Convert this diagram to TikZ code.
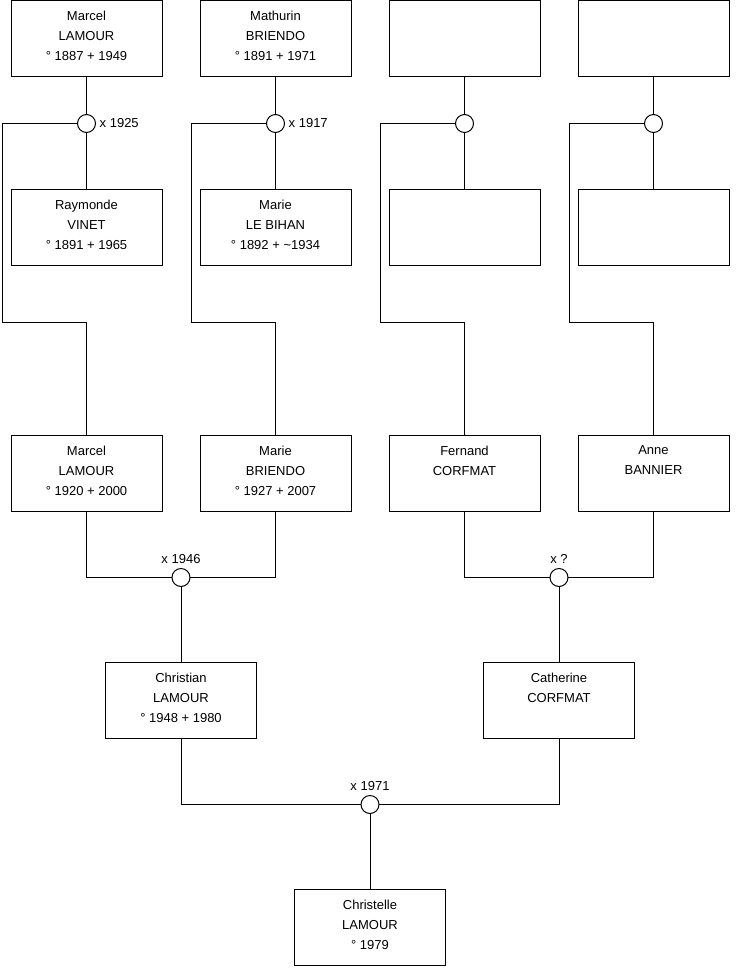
\documentclass[tikz,border=0pt]{standalone}
\usepackage{fontspec}
\setmainfont{Liberation Sans}
\usepackage{tikz}
\usetikzlibrary{positioning,calc}

\begin{document}
\begin{tikzpicture}[
  x=1pt, y=-1pt,
  person/.style={rectangle, draw, line width=1pt, outer sep=0pt, minimum width=151pt, minimum height=76pt, inner sep=0pt, align=center, font=\fontsize{13}{20}\selectfont},
  wedding/.style={circle, draw, line width=1pt, outer sep=0pt, fill=white, minimum size=18pt, inner sep=0pt},
  year/.style={font=\fontsize{13}{16}\selectfont, inner sep=1pt},
  link/.style={line width=1pt}
]
\useasboundingbox (0,0) rectangle (740,975);

% grandparents' parents
\node[person] (marcelSr) at (86.5,38.5) {Marcel\\LAMOUR\\° 1887 + 1949\\[-14pt]\mbox{}};
\node[person, right=38pt of marcelSr] (mathurin) {Mathurin\\BRIENDO\\° 1891 + 1971\\[-14pt]\mbox{}};
\node[person, right=38pt of mathurin] (corfmatF) {};
\node[person, right=38pt of corfmatF] (bannierF) {};

\node[wedding, below=38pt of marcelSr] (wed1) {};
\node[wedding, below=38pt of mathurin] (wed2) {};
\node[wedding, below=38pt of corfmatF] (wed3) {};
\node[wedding, below=38pt of bannierF] (wed4) {};
\node[year, right=3pt of wed1] (yr1) {x 1925};
\node[year, right=3pt of wed2] (yr2) {x 1917};

\node[person, below=57pt of wed1] (raymonde) {Raymonde\\VINET\\° 1891 + 1965\\[-14pt]\mbox{}};
\node[person, below=57pt of wed2] (marieLB) {Marie\\LE BIHAN\\° 1892 + \textasciitilde1934\\[-14pt]\mbox{}};
\node[person, below=57pt of wed3] (corfmatM) {};
\node[person, below=57pt of wed4] (bannierM) {};

% grandparents
\node[person, below=170pt of raymonde] (marcel) {Marcel\\LAMOUR\\° 1920 + 2000\\[-14pt]\mbox{}};
\node[person, below=170pt of marieLB] (marie) {Marie\\BRIENDO\\° 1927 + 2007\\[-14pt]\mbox{}};
\node[person, below=170pt of corfmatM] (fernand) {Fernand\\CORFMAT\\\mbox{}\\[-14pt]\mbox{}};
\node[person, below=170pt of bannierM] (anne) {Anne\\BANNIER\\\mbox{}\\[-14pt]\mbox{}};

\node[wedding] (wed5) at ($(marcel.south)!.5!(marie.south)+(0,66)$) {};
\node[wedding] (wed6) at ($(fernand.south)!.5!(anne.south)+(0,66)$) {};
\node[year, above=4pt of wed5] (yr5) {x 1946};
\node[year, above=4pt of wed6] (yr6) {x ?};

% parents
\node[person, below=76pt of wed5] (christian) {Christian\\LAMOUR\\° 1948 + 1980\\[-14pt]\mbox{}};
\node[person, below=76pt of wed6] (catherine) {Catherine\\CORFMAT\\\mbox{}\\[-14pt]\mbox{}};

\node[wedding] (wed7) at ($(christian.south)!.5!(catherine.south)+(0,66)$) {};
\node[year, above=4pt of wed7] (yr7) {x 1971};

\node[person, below=76pt of wed7] (christelle) {Christelle\\LAMOUR\\° 1979\\[-14pt]\mbox{}};

% couples and children
\draw[link] (marcelSr) -- (wed1);
\draw[link] (wed1) -- (raymonde);
\draw[link] (mathurin) -- (wed2);
\draw[link] (wed2) -- (marieLB);
\draw[link] (corfmatF) -- (wed3);
\draw[link] (wed3) -- (corfmatM);
\draw[link] (bannierF) -- (wed4);
\draw[link] (wed4) -- (bannierM);

\draw[link] (wed1.west) -| ([shift={(-9,57)}]raymonde.south west) -| (marcel.north);
\draw[link] (wed2.west) -| ([shift={(-9,57)}]marieLB.south west) -| (marie.north);
\draw[link] (wed3.west) -| ([shift={(-9,57)}]corfmatM.south west) -| (fernand.north);
\draw[link] (wed4.west) -| ([shift={(-9,57)}]bannierM.south west) -| (anne.north);

\draw[link] (marcel.south) |- (wed5.west);
\draw[link] (marie.south) |- (wed5.east);
\draw[link] (wed5) -- (christian);
\draw[link] (fernand.south) |- (wed6.west);
\draw[link] (anne.south) |- (wed6.east);
\draw[link] (wed6) -- (catherine);

\draw[link] (christian.south) |- (wed7.west);
\draw[link] (catherine.south) |- (wed7.east);
\draw[link] (wed7) -- (christelle);
\end{tikzpicture}
\end{document}
